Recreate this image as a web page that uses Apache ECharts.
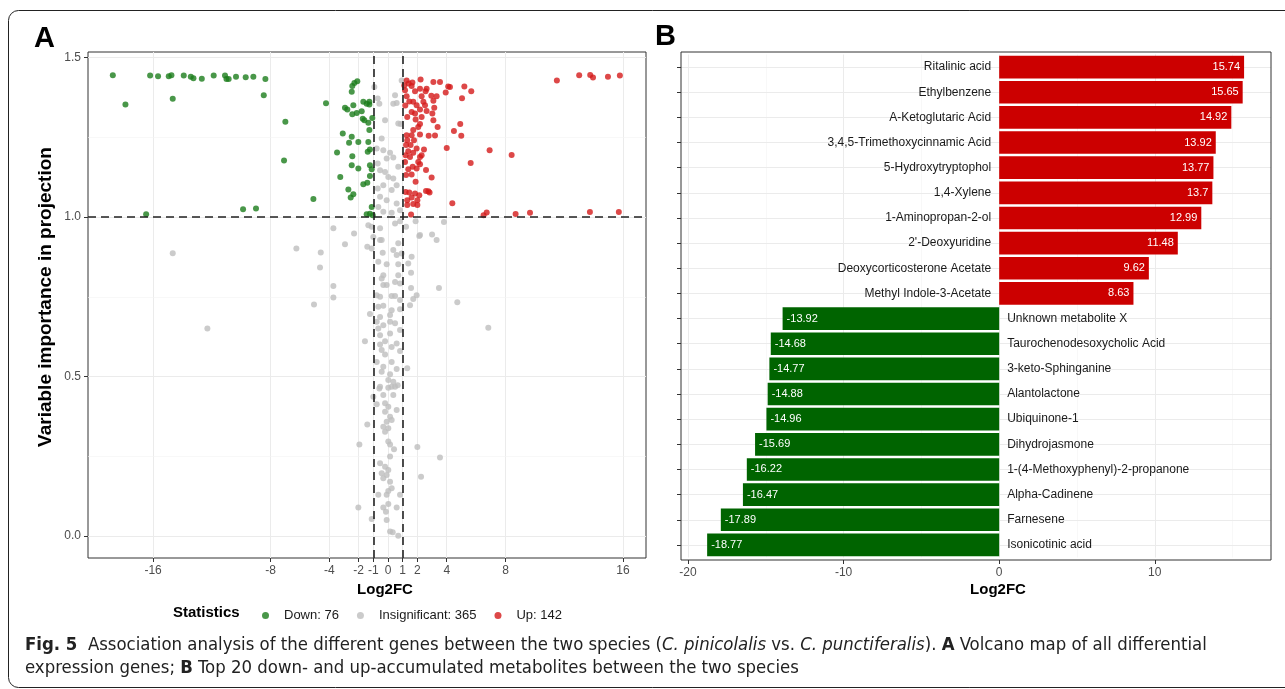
<!DOCTYPE html>
<html>
<head>
<meta charset="utf-8">
<title>Fig. 5</title>
<script src="https://cdn.jsdelivr.net/npm/echarts@6/dist/echarts.min.js"></script>
<style>
    html, body { margin: 0; padding: 0; background: #fff; }
    #fig { width: 1285px; height: 689px; }
</style>
</head>
<body>
<div id="fig"></div>
<script>
// ---- panel A: volcano points [log2FC, VIP] ----
const downPts = [
    [-18.74, 1.445], [-17.88, 1.353], [-16.2, 1.444], [-15.66, 1.442], [-14.93, 1.442], [-14.75, 1.445],
    [-14.66, 1.371], [-13.91, 1.444], [-13.43, 1.44], [-13.25, 1.436], [-12.68, 1.434], [-11.87, 1.444],
    [-11.1, 1.444], [-11.0, 1.433], [-10.85, 1.433], [-10.35, 1.44], [-9.69, 1.439], [-9.17, 1.44],
    [-8.46, 1.382], [-8.35, 1.433], [-6.99, 1.299], [-7.08, 1.178], [-5.08, 1.057], [-4.22, 1.357],
    [-16.47, 1.009], [-9.87, 1.025], [-8.99, 1.027], [-3.47, 1.203], [-3.25, 1.126],
    [-2.29, 1.421], [-2.09, 1.426], [-2.43, 1.411], [-2.47, 1.393], [-2.93, 1.343], [-2.77, 1.338],
    [-2.36, 1.351], [-2.43, 1.323], [-2.13, 1.327], [-1.79, 1.332], [-1.68, 1.362], [-1.45, 1.356],
    [-1.27, 1.362], [-1.27, 1.353], [-1.72, 1.309], [-1.61, 1.304], [-1.34, 1.296], [-1.07, 1.311],
    [-1.27, 1.273], [-3.08, 1.262], [-2.47, 1.252], [-2.02, 1.236], [-2.65, 1.233], [-1.34, 1.236],
    [-1.23, 1.212], [-1.38, 1.205], [-2.43, 1.191], [-1.23, 1.163], [-1.11, 1.15], [-2.47, 1.163],
    [-2.02, 1.153], [-1.68, 1.103], [-1.41, 1.108], [-1.23, 1.129], [-2.7, 1.087], [-2.54, 1.062],
    [-2.36, 1.072], [-1.11, 1.032], [-1.23, 1.011], [-1.45, 1.009], [-1.04, 1.006]
]
const insigPts = [
    [-14.66, 0.887], [-12.3, 0.651], [-6.24, 0.902], [-4.58, 0.889], [-4.63, 0.842], [-3.72, 0.784],
    [-3.72, 0.748], [-5.04, 0.726], [-3.72, 0.965],
    [-0.93, 1.408], [-0.7, 1.372], [-0.59, 1.356], [-0.2, 1.304], [0.48, 1.382], [0.36, 1.356],
    [0.59, 1.358], [0.93, 1.429], [0.7, 1.294], [0.86, 1.292], [-0.43, 1.247], [-0.77, 1.215],
    [-0.32, 1.21], [0.14, 1.202], [0.36, 1.187], [-0.09, 1.184], [-0.7, 1.168], [-0.54, 1.147],
    [-0.2, 1.142], [0.02, 1.126], [0.36, 1.121], [0.7, 1.158], [0.59, 1.1], [-0.32, 1.1],
    [-0.7, 1.09], [0.25, 1.085], [-0.54, 1.064], [-0.09, 1.053], [0.59, 1.043], [-0.66, 1.032],
    [-0.32, 1.017], [0.25, 1.014], [0.82, 1.022],
    [1.88, 0.987], [3.81, 0.985], [-2.31, 0.949], [-2.93, 0.915], [2.18, 0.944], [3.0, 0.946],
    [3.31, 0.928], [-0.54, 0.928],
    [-1.34, 0.975], [-1.11, 0.97], [-0.54, 0.965], [-1.0, 0.938], [-0.43, 0.928], [-1.41, 0.907],
    [-1.11, 0.902], [-0.36, 0.888], [0.36, 0.897], [0.7, 0.918], [0.59, 0.881], [0.93, 0.886],
    [0.48, 0.98], [0.82, 0.987], [1.23, 0.97], [2.13, 0.941], [1.61, 0.876], [1.38, 0.855],
    [0.7, 0.852], [-0.09, 0.852], [-0.66, 0.86], [-0.32, 0.818], [-0.43, 0.808], [0.7, 0.818],
    [0.82, 0.792], [0.48, 0.797], [1.57, 0.826], [-0.32, 0.787], [-0.09, 0.787], [1.57, 0.778],
    [3.47, 0.778], [-0.77, 0.755], [-0.54, 0.75], [0.25, 0.753], [0.48, 0.753], [1.95, 0.755],
    [1.72, 0.743], [1.5, 0.724], [0.82, 0.74], [-0.32, 0.722], [-0.66, 0.719], [4.72, 0.733],
    [-1.23, 0.696], [0.25, 0.708], [0.82, 0.711], [0.14, 0.693], [-0.54, 0.687], [-0.77, 0.672],
    [0.14, 0.672], [0.48, 0.667], [-0.32, 0.661], [0.82, 0.646], [-0.66, 0.651], [6.83, 0.653],
    [0.14, 0.635], [-0.54, 0.63], [-1.57, 0.611], [-0.2, 0.611], [0.59, 0.604], [-0.54, 0.601],
    [0.25, 0.593], [-0.43, 0.583], [0.82, 0.58], [-0.2, 0.569], [-0.77, 0.546], [0.25, 0.546],
    [-0.32, 0.531], [0.59, 0.524], [1.31, 0.526], [-0.43, 0.515], [0.14, 0.507], [0.02, 0.489],
    [0.36, 0.484], [-0.54, 0.468], [0.25, 0.468], [0.66, 0.473],
    [-0.59, 0.463], [0.02, 0.465], [0.48, 0.468], [-1.0, 0.437], [-0.32, 0.442], [0.36, 0.442],
    [-0.77, 0.413], [-0.2, 0.416], [0.02, 0.405], [0.59, 0.395], [-0.2, 0.39], [0.14, 0.374],
    [-0.09, 0.358], [0.25, 0.364], [-1.41, 0.35], [-0.32, 0.343], [0.02, 0.338], [-0.2, 0.327],
    [-1.95, 0.287], [0.02, 0.296], [0.14, 0.287], [0.41, 0.272], [2.0, 0.279], [3.54, 0.246],
    [0.14, 0.249], [-0.54, 0.228], [-0.2, 0.217], [0.02, 0.207], [-0.43, 0.197], [-0.09, 0.191],
    [-0.32, 0.181], [0.14, 0.17], [2.25, 0.186], [0.25, 0.15], [0.02, 0.141], [-0.09, 0.129],
    [-0.66, 0.129], [0.82, 0.129], [0.02, 0.1], [-2.02, 0.089], [-0.32, 0.089], [0.59, 0.089],
    [-0.14, 0.076], [-1.11, 0.053], [-0.09, 0.05], [0.14, 0.014], [0.32, 0.012], [0.7, 0.001]
]
const upPts = [
    [11.5, 1.429], [13.02, 1.445], [13.77, 1.446], [13.96, 1.438], [14.98, 1.44], [15.79, 1.444],
    [6.51, 1.006], [6.72, 1.015], [8.69, 1.01], [9.67, 1.014], [13.75, 1.016], [15.72, 1.016],
    [6.92, 1.21], [8.42, 1.195], [5.63, 1.17], [5.2, 1.41], [5.67, 1.395], [5.04, 1.373],
    [4.22, 1.408], [3.93, 1.391], [4.92, 1.292], [4.99, 1.255], [4.49, 1.27], [4.0, 1.217],
    [4.38, 1.044], [3.38, 1.283], [3.2, 1.256], [2.97, 1.124], [2.75, 1.081], [2.83, 1.077],
    [2.59, 1.148], [3.09, 1.424], [3.54, 1.424], [2.22, 1.432], [1.84, 1.395], [1.27, 1.429],
    [1.41, 1.419], [1.66, 1.422], [1.11, 1.413], [2.18, 1.403], [2.56, 1.395], [2.29, 1.379],
    [2.95, 1.381], [3.31, 1.379], [3.09, 1.365], [2.41, 1.362], [1.72, 1.362], [1.45, 1.363],
    [1.18, 1.35], [1.95, 1.351], [2.52, 1.351], [3.15, 1.343], [2.18, 1.338], [2.63, 1.333],
    [1.61, 1.33], [1.84, 1.325], [3.02, 1.325], [1.31, 1.314], [2.29, 1.314], [1.88, 1.306],
    [3.09, 1.304], [2.18, 1.292], [2.06, 1.283], [1.72, 1.273], [1.27, 1.257], [1.61, 1.257],
    [2.18, 1.259], [2.77, 1.255], [1.31, 1.241], [1.77, 1.241], [1.23, 1.226], [1.54, 1.226],
    [1.95, 1.215], [2.45, 1.212], [1.38, 1.207], [1.72, 1.202], [1.2, 1.194], [2.18, 1.189],
    [1.5, 1.189], [2.29, 1.194], [2.06, 1.173], [1.68, 1.158], [1.38, 1.15], [2.18, 1.166],
    [1.16, 1.173], [1.95, 1.153], [1.61, 1.134], [1.23, 1.132], [1.88, 1.111], [1.2, 1.079],
    [1.45, 1.077], [1.84, 1.074], [1.61, 1.062], [1.31, 1.053], [2.0, 1.053], [1.72, 1.041],
    [1.31, 1.038], [2.0, 1.038], [2.13, 1.069], [1.57, 1.008], [2.59, 1.082], [1.16, 1.398],
    [1.27, 1.379], [1.61, 1.411], [2.63, 1.403], [4.1, 1.41]
]
const volcanoXTicks = [-16, -8, -4, -2, -1, 0, 1, 2, 4, 8, 16]
const volcanoYTicks = [0, 0.5, 1.0, 1.5]
const volcanoYMinor = [0.25, 0.75, 1.25]
const fcCut = [-1, 1]
const vipCut = 1

// ---- panel B: top 20 metabolites ----
const metabolites = [
    'Ritalinic acid', 'Ethylbenzene', 'A-Ketoglutaric Acid', '3,4,5-Trimethoxycinnamic Acid',
    '5-Hydroxytryptophol', '1,4-Xylene', '1-Aminopropan-2-ol', "2'-Deoxyuridine",
    'Deoxycorticosterone Acetate', 'Methyl Indole-3-Acetate', 'Unknown metabolite X',
    'Taurochenodesoxycholic Acid', '3-keto-Sphinganine', 'Alantolactone', 'Ubiquinone-1',
    'Dihydrojasmone', '1-(4-Methoxyphenyl)-2-propanone', 'Alpha-Cadinene', 'Farnesene',
    'Isonicotinic acid'
]
const log2fc = [
    15.74, 15.65, 14.92, 13.92, 13.77, 13.7, 12.99, 11.48, 9.62, 8.63,
    -13.92, -14.68, -14.77, -14.88, -14.96, -15.69, -16.22, -16.47, -17.89, -18.77
]
const barXTicks = [-20, -10, 0, 10]
const barXMinor = [-15, -5, 5, 15]

const fontFam = '"Liberation Sans", Arial, sans-serif'
const capFont = '"Liberation Sans Narrow", "DejaVu Sans Condensed", sans-serif'
const gridMajor = { color: '#ebebeb', width: 1, type: 'solid' }
const gridMinor = { color: '#f3f3f3', width: 0.6, type: 'solid' }
const noLine = { show: false, onZero: false }

let chart = echarts.init(document.getElementById('fig'), null, { renderer: 'canvas' })

// panel B band: ggplot leaves 0.6 of a band above and below
const bandB = 508 / (metabolites.length - 1 + 1.2)
const gridBTop = 52 + 0.6 * bandB - bandB / 2

let option = {
    animation: false,
    textStyle: { fontFamily: fontFam },
    grid: [
        { left: 88, top: 52, width: 558, height: 506, show: true, borderColor: '#333', borderWidth: 1, backgroundColor: 'transparent' },
        { left: 681, top: gridBTop, width: 590, height: bandB * metabolites.length }
    ],
    xAxis: [
        {
            gridIndex: 0, type: 'value', min: -20.43, max: 17.57, position: 'bottom',
            splitLine: { show: false }, axisLine: noLine,
            axisTick: { show: true, customValues: volcanoXTicks, length: 4, lineStyle: { color: '#333' } },
            axisLabel: { customValues: volcanoXTicks, color: '#4d4d4d', fontSize: 12, margin: 7 }
        },
        {
            gridIndex: 1, type: 'value', min: -20.45, max: 17.47, position: 'bottom',
            offset: 560 - gridBTop - bandB * metabolites.length,
            splitLine: { show: false }, axisLine: noLine,
            axisTick: { show: true, customValues: barXTicks, length: 4, lineStyle: { color: '#333' } },
            axisLabel: { customValues: barXTicks, color: '#4d4d4d', fontSize: 12, margin: 7 }
        }
    ],
    yAxis: [
        {
            gridIndex: 0, type: 'value', min: -0.069, max: 1.518, position: 'left',
            splitLine: { show: false }, axisLine: noLine,
            axisTick: { show: true, customValues: volcanoYTicks, length: 4, lineStyle: { color: '#333' } },
            axisLabel: { customValues: volcanoYTicks, color: '#4d4d4d', fontSize: 12, margin: 7,
                formatter: v => v.toFixed(1) }
        },
        {
            gridIndex: 1, type: 'category', data: metabolites, inverse: true, position: 'left',
            splitLine: { show: false }, axisLine: noLine,
            axisTick: { show: true, alignWithLabel: true, length: 4, lineStyle: { color: '#333' } },
            axisLabel: { show: false }
        }
    ],
    legend: {
        data: ['Down: 76', 'Insignificant: 365', 'Up: 142'],
        left: 257, top: 604, orient: 'horizontal',
        icon: 'circle', itemWidth: 7, itemHeight: 7, itemGap: 18,
        textStyle: { fontSize: 13, color: '#1a1a1a', padding: [0, 0, 0, 10] }
    },
    graphic: [
        { type: 'rect', silent: true, shape: { x: 8.5, y: 10.5, width: 1300, height: 677, r: 10 },
          style: { fill: 'none', stroke: '#222', lineWidth: 1 } },
        { type: 'rect', silent: true, z: 100, shape: { x: 681, y: 52, width: 590, height: 508 },
          style: { fill: 'none', stroke: '#333', lineWidth: 1 } },
        { type: 'text', x: 34, y: 24, style: { text: 'A', font: 'bold 29px ' + fontFam, fill: '#000' } },
        { type: 'text', x: 655, y: 22, style: { text: 'B', font: 'bold 29px ' + fontFam, fill: '#000' } },
        { type: 'text', x: 46, y: 297, rotation: Math.PI / 2,
          style: { text: 'Variable importance in projection', font: 'bold 19px ' + fontFam, fill: '#000',
                   align: 'center', verticalAlign: 'middle' } },
        { type: 'text', x: 385, y: 590, style: { text: 'Log2FC', font: 'bold 15px ' + fontFam, fill: '#000',
                   align: 'center', verticalAlign: 'middle' } },
        { type: 'text', x: 998, y: 590, style: { text: 'Log2FC', font: 'bold 15px ' + fontFam, fill: '#000',
                   align: 'center', verticalAlign: 'middle' } },
        { type: 'text', x: 173, y: 613, style: { text: 'Statistics', font: 'bold 15px ' + fontFam, fill: '#000',
                   verticalAlign: 'middle' } },
        // caption
        { type: 'text', x: 25, y: 645, style: {
            text: '{b|Fig. 5}  Association analysis of the different genes between the two species ({i|C. pinicolalis} vs. {i|C. punctiferalis}). {b|A} Volcano map of all differential',
            font: '18.4px ' + capFont, fill: '#222', verticalAlign: 'middle',
            rich: { b: { fontWeight: 'bold', fontSize: 18.4, fontFamily: capFont, fill: '#222' },
                    i: { fontStyle: 'italic', fontSize: 18.4, fontFamily: capFont, fill: '#222' } } } },
        { type: 'text', x: 25, y: 668, style: {
            text: 'expression genes; {b|B} Top 20 down- and up-accumulated metabolites between the two species',
            font: '18.4px ' + capFont, fill: '#222', verticalAlign: 'middle',
            rich: { b: { fontWeight: 'bold', fontSize: 18.4, fontFamily: capFont, fill: '#222' } } } }
    ],
    series: [
        // panel A background grid
        {
            type: 'scatter', xAxisIndex: 0, yAxisIndex: 0, data: [], silent: true, z: 1,
            markLine: {
                z: 0, symbol: 'none', silent: true, label: { show: false },
                data: [
                    ...volcanoXTicks.map(v => ({ xAxis: v, lineStyle: gridMajor })),
                    ...volcanoYTicks.map(v => ({ yAxis: v, lineStyle: gridMajor })),
                    ...volcanoYMinor.map(v => ({ yAxis: v, lineStyle: gridMinor }))
                ]
            }
        },
        {
            name: 'Insignificant: 365', type: 'scatter', xAxisIndex: 0, yAxisIndex: 0, z: 3,
            data: insigPts, symbolSize: 6, itemStyle: { color: '#bebebe' }
        },
        {
            name: 'Down: 76', type: 'scatter', xAxisIndex: 0, yAxisIndex: 0, z: 3,
            data: downPts, symbolSize: 6, itemStyle: { color: '#1c7d1c' }
        },
        {
            name: 'Up: 142', type: 'scatter', xAxisIndex: 0, yAxisIndex: 0, z: 3,
            data: upPts, symbolSize: 6, itemStyle: { color: '#d41a1a' }
        },
        // threshold lines
        {
            type: 'scatter', xAxisIndex: 0, yAxisIndex: 0, data: [], silent: true, z: 5,
            markLine: {
                z: 10, symbol: 'none', silent: true, label: { show: false },
                lineStyle: { color: '#222', width: 1.6, type: [8, 5] },
                data: [
                    ...fcCut.map(v => ({ xAxis: v })),
                    { yAxis: vipCut }
                ]
            }
        },
        // panel B background grid
        {
            type: 'scatter', xAxisIndex: 1, yAxisIndex: 1, data: [], silent: true, z: 1,
            markLine: {
                z: 0, symbol: 'none', silent: true, label: { show: false },
                data: [
                    ...barXTicks.map(v => ({ xAxis: v, lineStyle: gridMajor })),
                    ...barXMinor.map(v => ({ xAxis: v, lineStyle: gridMinor })),
                    ...metabolites.map((m, i) => ({ yAxis: i, lineStyle: gridMajor }))
                ]
            }
        },
        {
            type: 'bar', xAxisIndex: 1, yAxisIndex: 1, z: 3, barWidth: '90%',
            data: log2fc.map(v => ({
                value: v,
                itemStyle: { color: v > 0 ? '#cc0000' : '#006400' },
                label: { position: v > 0 ? 'insideRight' : 'insideLeft' }
            })),
            label: { show: true, color: '#fff', fontSize: 11, distance: 4, formatter: p => String(p.value) }
        },
        // category names sitting on the zero line
        {
            type: 'bar', xAxisIndex: 1, yAxisIndex: 1, z: 4, barWidth: '90%', barGap: '-100%', silent: true,
            data: log2fc.map(v => ({
                value: v,
                label: { position: v > 0 ? 'left' : 'right' }
            })),
            itemStyle: { color: 'rgba(0,0,0,0)' },
            label: { show: true, color: '#1a1a1a', fontSize: 12, distance: 8, formatter: p => p.name }
        }
    ]
}
chart.setOption(option)
</script>
</body>
</html>
